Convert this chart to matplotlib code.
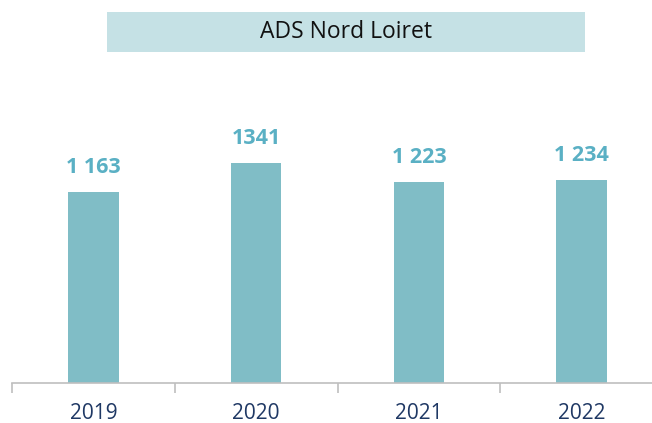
import matplotlib
matplotlib.use("Agg")
import matplotlib.pyplot as plt
from matplotlib.patches import Rectangle

years = ["2019", "2020", "2021", "2022"]
values = [1163, 1341, 1223, 1234]
value_labels = ["1 163", "1341", "1 223", "1 234"]
title = "ADS Nord Loiret"

W, H = 652, 423
fig = plt.figure(figsize=(W / 100, H / 100), dpi=100)
plt.rcParams["font.family"] = ["Open Sans", "DejaVu Sans"]

# plot area: baseline at y=383 px, categories spanning x=12..663 px
left, right = 12 / W, 663 / W
bottom = (H - 383) / H
ax = fig.add_axes([left, bottom, right - left, 1 - bottom])
ax.set_xlim(-0.5, len(years) - 0.5)
ax.set_ylim(0, 2330)

x = range(len(years))
ax.bar(x, values, width=0.31, color="#80BDC6", zorder=2)

for xi, v, lab in zip(x, values, value_labels):
    ax.annotate(lab, (xi, v), xytext=(0, 14), textcoords="offset pixels",
                ha="center", va="bottom", fontsize=15.5, fontweight="bold",
                color="#5AB0C4")

for s in ["top", "right", "left"]:
    ax.spines[s].set_visible(False)
ax.spines["bottom"].set_color("#BFBFBF")
ax.spines["bottom"].set_linewidth(1.2)
ax.set_yticks([])

ax.set_xticks([i - 0.5 for i in range(len(years) + 1)], minor=False)
ax.set_xticklabels([])
ax.tick_params(axis="x", which="major", length=7, width=1.2, color="#BFBFBF")
ax.set_xticks(list(x), minor=True)
ax.set_xticklabels(years, minor=True)
ax.tick_params(axis="x", which="minor", length=0, pad=22, labelsize=15,
               labelcolor="#1F3864")
for t in ax.get_xticklabels(minor=True):
    t.set_verticalalignment("center")

# title banner
fig.patches.append(Rectangle((107 / W, (H - 52) / H), (585 - 107) / W, 40 / H,
                             transform=fig.transFigure, facecolor="#C5E1E5",
                             edgecolor="none", zorder=0))
fig.text(346 / W, (H - 32) / H, title, ha="center", va="center",
         fontsize=16.5, color="#111111")

fig.savefig("out.png", dpi=100)
